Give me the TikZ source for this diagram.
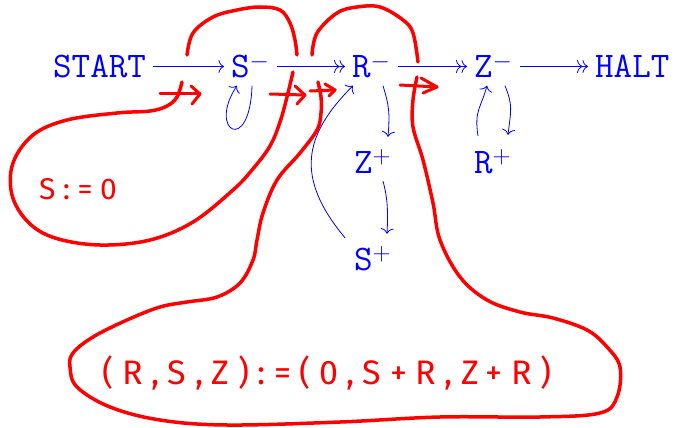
\documentclass[tikz,border=0pt]{standalone}
\usepackage{fontspec}
\newfontfamily\hand[LetterSpace=25]{Fira Sans}
\usetikzlibrary{arrows.meta,calc}
\begin{document}
\begin{tikzpicture}[x=1pt,y=-1pt,
  lbl/.style={text=blue, font=\fontsize{36}{40}\selectfont\ttfamily, anchor=west,
    inner xsep=7pt, inner ysep=8pt, text height=22pt, text depth=0pt},
  conn/.style={blue, line width=0.8pt, -{To[length=5.5pt,width=13pt]}},
  conntwo/.style={blue, line width=0.8pt, -{To[length=5.5pt,width=13pt] To[length=5.5pt,width=13pt]}},
  ink/.style={red, line width=3.5pt, line cap=round, line join=round},
  handtxt/.style={text=red, inner sep=0pt}
]
\useasboundingbox (0,0) rectangle (675,428);

% blue nodes
\node[lbl] (start) at (46,66.5) {START};
\node[lbl] (sm) at (224,66.5) {S$^-$};
\node[lbl] (rm) at (345,66.5) {R$^-$};
\node[lbl] (zm) at (467,66.5) {Z$^-$};
\node[lbl] (halt) at (588,66.5) {HALT};
\node[lbl] (zp) at (347,162) {Z$^+$};
\node[lbl] (rp) at (467,162) {R$^+$};
\node[lbl] (sp) at (347,259) {S$^+$};

% blue connectors
\draw[conn] (start) -- (sm);
\draw[conntwo] (sm) -- (rm);
\draw[conntwo] (rm) -- (zm);
\draw[conntwo] (zm) -- (halt);
\draw[conn] ([xshift=28pt]sm.south west) .. controls +(-2,70) and +(-30,45) .. ([xshift=13pt]sm.south west);
\draw[conn] ([xshift=38pt]rm.south west) .. controls +(6,20) and +(2,-25) .. ([xshift=41pt,yshift=6pt]zp.north west);
\draw[conn] ([xshift=36pt]zp.south west) .. controls +(5,18) and +(1,-20) .. ([xshift=40pt,yshift=6pt]sp.north west);
\draw[conn] ([xshift=-2pt,yshift=2pt]sp.north west) .. controls +(-50,-60) and +(-50,50) .. ([xshift=8pt]rm.south west);
\draw[conn] ([xshift=11pt,yshift=7pt]rp.north west) .. controls +(-4,-25) and +(-6,22) .. ([xshift=20pt]zm.south west);
\draw[conn] ([xshift=38pt]zm.south west) .. controls +(8,20) and +(3,-25) .. ([xshift=41pt,yshift=8pt]rp.north west);

% red annotations
\draw[ink] plot[smooth, tension=0.6] coordinates {(187,55) (193,33) (213,17) (237,10) (260,7) (280,10) (290,23) (295,40) (297,55)};
\draw[ink] plot[smooth, tension=0.6] coordinates {(293,72) (287,97) (280,122) (270,146) (252,170) (233,190) (193,222) (150,240) (100,245) (55,238) (28,222) (12,195) (13,163) (33,135) (67,120) (117,113) (150,111) (167,106) (177,97) (182,82)};
\draw[ink] plot[smooth, tension=0.6] coordinates {(312,55) (317,33) (337,13) (357,7) (380,7) (403,20) (413,33) (418,62)};
\draw[ink] plot[smooth, tension=0.6] coordinates {(417,77) (413,100) (413,127) (423,160) (433,203) (440,240) (460,277) (487,300) (520,312) (553,318) (587,330) (607,347) (620,367) (617,397) (600,413) (540,417) (440,417) (340,422) (227,425) (160,420) (110,407) (77,387) (70,367) (73,353) (93,337) (127,320) (160,307) (187,302) (217,297) (240,283) (253,260) (257,240) (263,213) (277,180) (300,153) (317,130) (321,113) (321,97) (318,82)};

\draw[ink, line width=3pt] (160,94) -- (200,94);
\draw[ink, line width=3pt] (191,86) -- (200,94) -- (192,104);
\draw[ink, line width=3pt] (270,94) -- (305,95);
\draw[ink, line width=3pt] (295,86) -- (305,95) -- (297,104);
\draw[ink, line width=3pt] (310,91) -- (335,90);
\draw[ink, line width=3pt] (325,84) -- (335,90) -- (329,96);
\draw[ink, line width=3pt] (400,85) -- (437,87);
\draw[ink, line width=3pt] (421,78) -- (437,87) -- (423,93);

\node[handtxt, font=\hand\fontsize{30}{36}\selectfont] (szero) at (78,189) {S:=0};
\node[handtxt, font=\hand\fontsize{34}{40}\selectfont] (assign) at (327,373) {(R,S,Z):=(0,S+R,Z+R)};
\end{tikzpicture}
\end{document}
